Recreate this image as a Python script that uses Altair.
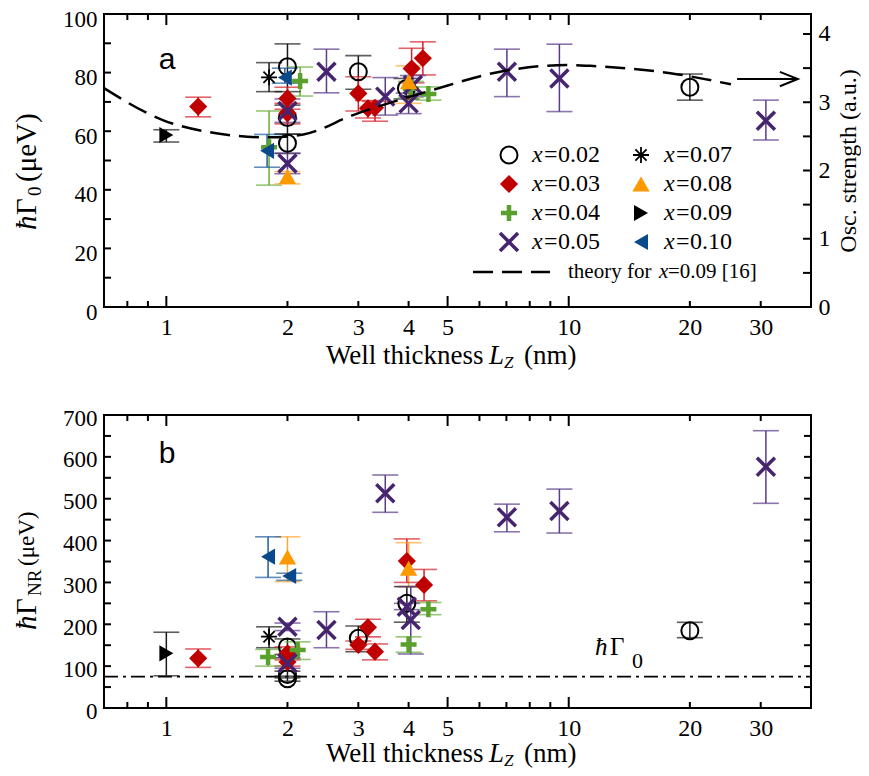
import altair as alt
import pandas as pd

SERIF = "Liberation Serif"
SANS = "Liberation Sans"

SERIES = ["0.02", "0.03", "0.04", "0.05", "0.07", "0.08", "0.09", "0.10"]
MARK_COLORS = ["#000000", "#c00000", "#5aa02c", "#46246e", "#000000", "#ff9900", "#000000", "#0b4a8a"]
BAR_COLORS = ["#1a1a1a", "#d6202a", "#6aad3a", "#5a3a8a", "#1a1a1a", "#ffa733", "#1a1a1a", "#1f5d9e"]

# ---------------- panel a : hbar Gamma_0 (ueV) ----------------
A_S = ["0.02", "0.02", "0.02", "0.02", "0.02", "0.02",
       "0.03", "0.03", "0.03", "0.03", "0.03", "0.03", "0.03", "0.03",
       "0.04", "0.04", "0.04", "0.04",
       "0.05", "0.05", "0.05", "0.05", "0.05", "0.05", "0.05", "0.05", "0.05",
       "0.07", "0.08", "0.08", "0.09", "0.10", "0.10"]
A_L = [2.0, 2.0, 2.0, 3.0, 3.95, 20.0,
       1.2, 2.0, 2.0, 3.0, 3.17, 3.3, 4.07, 4.34,
       1.8, 2.15, 4.05, 4.48,
       2.0, 2.0, 2.5, 3.5, 4.0, 4.1, 7.02, 9.48, 30.9,
       1.8, 2.0, 4.0, 1.0, 1.97, 1.78]
A_V = [82.0, 64.7, 55.9, 80.3, 74.6, 75.0,
       68.4, 71.2, 66.1, 72.9, 67.8, 68.0, 81.4, 84.9,
       54.5, 77.1, 74.5, 72.7,
       66.9, 49.0, 80.3, 71.8, 69.5, 75.8, 80.3, 78.0, 63.6,
       78.4, 44.5, 76.9, 58.7, 78.3, 53.3]
A_LO = [73.5, 59.0, 52.4, 74.3, 71.0, 70.6,
        64.9, 67.5, 62.5, 66.9, 64.5, 63.4, 76.5, 79.2,
        41.6, 72.0, 71.5, 70.6,
        63.0, 45.5, 73.1, 65.5, 66.0, 72.0, 71.8, 66.7, 57.0,
        73.5, 42.0, 69.5, 56.3, 76.4, 47.7]
A_HI = [89.8, 68.9, 59.0, 85.8, 78.0, 79.5,
        71.6, 75.0, 69.5, 78.6, 70.5, 70.2, 88.3, 90.5,
        66.9, 81.9, 77.0, 75.1,
        71.0, 52.5, 88.0, 78.3, 73.0, 79.0, 88.0, 89.7, 70.6,
        83.4, 46.2, 82.3, 60.5, 81.5, 58.9]

# theory curve for x = 0.09 (drawn on the hbar Gamma_0 scale)
THEORY_L = [0.7, 0.98, 1.33, 1.79, 2.19, 2.91, 4.6, 6.75, 9.9, 11.3, 17.9, 25.3]
THEORY_V = [74.7, 63.8, 59.3, 57.9, 58.9, 65.5, 74.1, 80.3, 82.6, 82.3, 79.8, 76.0]
ARROW_L = [26.2, 37.1]
ARROW_V = [77.8, 77.8]

# ---------------- panel b : hbar Gamma_NR (ueV) ----------------
B_S = ["0.02", "0.02", "0.02", "0.02", "0.02", "0.02",
       "0.03", "0.03", "0.03", "0.03", "0.03", "0.03", "0.03", "0.03",
       "0.04", "0.04", "0.04", "0.04",
       "0.05", "0.05", "0.05", "0.05", "0.05", "0.05", "0.05", "0.05", "0.05",
       "0.07", "0.08", "0.08", "0.09", "0.10", "0.10"]
B_L = [2.0, 2.0, 2.0, 3.0, 3.96, 20.0,
       1.2, 2.0, 2.0, 3.0, 3.17, 3.3, 3.96, 4.37,
       1.79, 2.12, 4.0, 4.48,
       2.0, 2.0, 2.5, 3.5, 3.96, 4.05, 7.02, 9.48, 30.9,
       1.8, 2.0, 4.0, 1.0, 1.79, 2.02]
B_V = [146, 80, 70, 166.5, 250, 184.7,
       118.7, 130.6, 110, 150.5, 192.8, 134.5, 351, 294,
       122, 138.6, 152, 235.7,
       194, 107, 186.3, 513, 242, 210, 455.6, 470.6, 576.5,
       170.4, 361, 333.7, 130.6, 361.5, 315.4]
B_LO = [128, 72, 64, 134.5, 205, 168,
        97, 115, 100, 140, 170, 115, 300, 256,
        100, 116, 133, 223,
        185, 95, 144, 467.5, 235, 129, 421, 418, 489,
        144, 302, 290, 77, 312, 305]
B_HI = [165, 88, 76, 196, 290, 204.7,
        141, 146, 120, 160, 212, 153, 404, 331,
        140, 158, 170, 252,
        203, 120, 230, 556.6, 250, 290, 487, 523, 662.5,
        194, 409, 395, 181, 409, 322]
GAMMA0 = [75]

# axis ticks
XT_LABELS = [1, 2, 3, 4, 5, 10, 20, 30]
XT_MAJOR = [1, 5, 10]
XT_MINOR = [0.8, 0.9, 2, 3, 4, 6, 7, 8, 9, 20, 30]
A_YT = [0, 10, 20, 30, 40, 50, 60, 70, 80, 90, 100]
A_YLAB = [0, 20, 40, 60, 80, 100]
OSC_T = [0, 0.5, 1, 1.5, 2, 2.5, 3, 3.5, 4]
OSC_LAB = [0, 1, 2, 3, 4]
OSC_MAX = 4.293
B_YT = [0, 50, 100, 150, 200, 250, 300, 350, 400, 450, 500, 550, 600, 650, 700]
B_YLAB = [0, 100, 200, 300, 400, 500, 600, 700]

W, H = 707, 293

PLUS = "M -1 0 L 1 0 M 0 -1 L 0 1"
XSH = "M -1 -1 L 1 1 M -1 1 L 1 -1"
AST = "M -1 0 L 1 0 M 0 -1 L 0 1 M -0.7 -0.7 L 0.7 0.7 M -0.7 0.7 L 0.7 -0.7"
CHEVRON = "M -1 -0.4 L 0 0 L -1 0.4"
STYLE = {
    "0.02": dict(shape="circle", filled=False, size=289, strokeWidth=2),
    "0.03": dict(shape="diamond", filled=True, size=330),
    "0.04": dict(shape=PLUS, filled=False, size=256, strokeWidth=4.5),
    "0.05": dict(shape=XSH, filled=False, size=324, strokeWidth=3.5),
    "0.07": dict(shape=AST, filled=False, size=256, strokeWidth=1.8),
    "0.08": dict(shape="triangle-up", filled=True, size=300),
    "0.09": dict(shape="triangle-right", filled=True, size=260),
    "0.10": dict(shape="triangle-left", filled=True, size=260),
}

XS = alt.Scale(type="log", domain=[0.7, 40], nice=False)
ONE = pd.DataFrame({"k": [0]})
AX = dict(labelFont=SERIF, labelColor="black", grid=False,
          ticks=False, domain=False, title=None)
XAXIS = alt.Axis(values=XT_LABELS, format="~g", labelPadding=8, labelFontSize=24, **AX)


def xq(field):
    return alt.X(f"{field}:Q", scale=XS, axis=XAXIS)


def yq(field, ys, ax):
    return alt.Y(f"{field}:Q", scale=ys, axis=ax)


def txt(text, x, y, size=24, style="normal", angle=0, align="left",
        baseline="alphabetic", font=SERIF):
    return alt.Chart(ONE).mark_text(
        text=text, font=font, fontSize=size, fontStyle=style, angle=angle,
        align=align, baseline=baseline, color="black"
    ).encode(x=alt.value(x), y=alt.value(y))


def data_layers(df, ys, ax):
    cscale = alt.Scale(domain=SERIES, range=BAR_COLORS)
    col = alt.Color("s:N", scale=cscale, legend=None)
    layers = [
        alt.Chart(df).mark_rule(strokeWidth=1.5).encode(x=xq("L"), y=yq("lo", ys, ax), y2="hi:Q", color=col),
        alt.Chart(df).mark_tick(orient="horizontal", size=26, thickness=1.6).encode(x=xq("L"), y=yq("lo", ys, ax), color=col),
        alt.Chart(df).mark_tick(orient="horizontal", size=26, thickness=1.6).encode(x=xq("L"), y=yq("hi", ys, ax), color=col),
    ]
    for s in SERIES:
        sub = df[df["s"] == s]
        if len(sub) == 0:
            continue
        st = STYLE[s]
        c = MARK_COLORS[SERIES.index(s)]
        layers.append(alt.Chart(sub).mark_point(color=c, opacity=1, **st).encode(x=xq("L"), y=yq("v", ys, ax)))
    return layers


def frame_ticks(ys, ax, yt, right=True):
    layers = []
    for vals, ln in ((XT_MAJOR, 11), (XT_MINOR, 6)):
        d = pd.DataFrame({"t": vals})
        layers.append(alt.Chart(d).mark_rule(color="black", strokeWidth=2)
                      .encode(x=xq("t"), y=alt.value(H), y2=alt.value(H - ln)))
        layers.append(alt.Chart(d).mark_rule(color="black", strokeWidth=2)
                      .encode(x=xq("t"), y=alt.value(0), y2=alt.value(ln)))
    d = pd.DataFrame({"t": yt})
    layers.append(alt.Chart(d).mark_rule(color="black", strokeWidth=2)
                  .encode(y=yq("t", ys, ax), x=alt.value(0), x2=alt.value(7)))
    if right:
        layers.append(alt.Chart(d).mark_rule(color="black", strokeWidth=2)
                      .encode(y=yq("t", ys, ax), x=alt.value(W - 7), x2=alt.value(W)))
    return layers


def xtitle(dy):
    return [
        txt("Well thickness", 222, H + dy, size=27),
        txt("L", 385, H + dy, size=27, style="italic"),
        txt("Z", 400, H + dy + 4, size=17, style="italic"),
        txt("(nm)", 420, H + dy, size=27),
    ]


# ---------------- panel a ----------------
dfa = pd.DataFrame({"s": A_S, "L": A_L, "v": A_V, "lo": A_LO, "hi": A_HI})
YA = alt.Scale(domain=[0, 100], nice=False, zero=False)
AXA = alt.Axis(values=A_YLAB, labelPadding=7, labelOffset=5, labelFontSize=23, **AX)

a_layers = data_layers(dfa, YA, AXA)
a_layers.append(alt.Chart(pd.DataFrame({"L": THEORY_L, "v": THEORY_V}))
                .mark_line(color="black", strokeWidth=2.5, strokeDash=[20, 9], interpolate="monotone")
                .encode(x=xq("L"), y=yq("v", YA, AXA)))
arr = pd.DataFrame({"L": ARROW_L[:1], "L2": ARROW_L[1:], "v": ARROW_V[:1]})
a_layers.append(alt.Chart(arr).mark_rule(color="black", strokeWidth=2)
                .encode(x=xq("L"), x2="L2:Q", y=yq("v", YA, AXA)))
a_layers.append(alt.Chart(pd.DataFrame({"L": ARROW_L[1:], "v": ARROW_V[1:]}))
                .mark_point(shape=CHEVRON, filled=False, size=1296, strokeWidth=2, color="black", opacity=1)
                .encode(x=xq("L"), y=yq("v", YA, AXA)))
a_layers += frame_ticks(YA, AXA, A_YT, right=False)

# legend
for i, s in enumerate(SERIES):
    col_i, row_i = i // 4, i % 4
    mx = 405 + 132 * col_i
    my = 141 + 29 * row_i
    st = dict(STYLE[s])
    a_layers.append(alt.Chart(ONE).mark_point(color=MARK_COLORS[i], opacity=1, **st)
                    .encode(x=alt.value(mx), y=alt.value(my)))
    a_layers.append(txt("x", mx + 23, my, size=24, style="italic", baseline="middle"))
    a_layers.append(txt("=", mx + 35, my, size=24, baseline="middle"))
    a_layers.append(txt(s, mx + 49, my, size=24, baseline="middle"))
a_layers.append(alt.Chart(ONE).mark_rule(color="black", strokeWidth=2.5, strokeDash=[20, 9])
                .encode(x=alt.value(369), x2=alt.value(446), y=alt.value(258)))
a_layers.append(txt("theory for", 464, 258, size=21, baseline="middle"))
a_layers.append(txt("x", 555, 258, size=21, style="italic", baseline="middle"))
a_layers.append(txt("=0.09 [16]", 564, 258, size=21, baseline="middle"))

a_layers.append(txt("a", 63, 55, size=30, font=SANS, align="center"))
a_layers += [
    txt("ħ", -77, 216, size=29, style="italic", angle=270, baseline="middle"),
    txt("Γ", -77, 201, size=29, angle=270, baseline="middle"),
    txt("0", -69, 182, size=19, angle=270, baseline="middle"),
    txt("(μeV)", -77, 168, size=29, angle=270, baseline="middle"),
]
a_layers += xtitle(57)

osc = alt.Chart(pd.DataFrame({"t": OSC_T})).mark_rule(color="black", strokeWidth=2).encode(
    y=alt.Y("t:Q", scale=alt.Scale(domain=[0, OSC_MAX], nice=False, zero=False),
            axis=alt.Axis(orient="right", values=OSC_LAB, labelPadding=7,
                          labelFont=SERIF, labelFontSize=24, labelColor="black", grid=False,
                          ticks=False, domain=False, title="Osc. strength (a.u.)",
                          titleFont=SERIF, titleFontSize=24, titleFontWeight="normal",
                          titleColor="black", titleAngle=270, titleBaseline="top",
                          titlePadding=6)),
    x=alt.value(W - 8), x2=alt.value(W))

top = alt.layer(alt.layer(*a_layers), osc).resolve_scale(y="independent").properties(width=W, height=H)

# ---------------- panel b ----------------
dfb = pd.DataFrame({"s": B_S, "L": B_L, "v": B_V, "lo": B_LO, "hi": B_HI})
YB = alt.Scale(domain=[0, 700], nice=False, zero=False)
AXB = alt.Axis(values=B_YLAB, labelPadding=7, labelOffset=3, labelFontSize=23, **AX)

b_layers = []
b_layers.append(alt.Chart(pd.DataFrame({"g": GAMMA0})).mark_rule(color="black", strokeWidth=1.8, strokeDash=[14, 5, 3, 5])
                .encode(y=yq("g", YB, AXB), x=alt.value(0), x2=alt.value(W)))
b_layers += data_layers(dfb, YB, AXB)
b_layers += frame_ticks(YB, AXB, B_YT, right=True)
b_layers.append(txt("b", 63, 48, size=30, font=SANS, align="center"))
b_layers += [
    txt("ħ", 491, 240, size=25, style="italic"),
    txt("Γ", 506, 240, size=25),
    txt("0", 528, 253, size=22),
]
b_layers += [
    txt("ħ", -77, 215, size=29, style="italic", angle=270, baseline="middle"),
    txt("Γ", -77, 200, size=29, angle=270, baseline="middle"),
    txt("NR", -69, 181, size=19, angle=270, baseline="middle"),
    txt("(μeV)", -77, 151, size=23, angle=270, baseline="middle"),
]
b_layers += xtitle(54)

bottom = alt.layer(*b_layers).properties(width=W, height=H)

chart = alt.vconcat(top, bottom, spacing=108, bounds="flush").properties(
    padding={"left": 4, "top": -1, "right": 0, "bottom": 0}
).configure_view(stroke="black", strokeWidth=2).configure_axis(grid=False)

chart.save("out.html", embed_options={"renderer": "svg", "actions": False})
